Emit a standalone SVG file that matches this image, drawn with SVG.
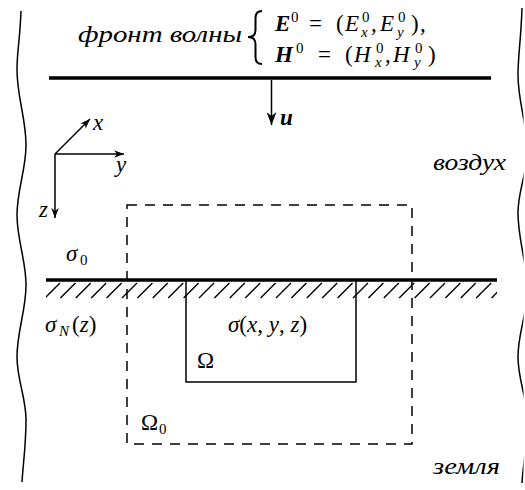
<svg xmlns="http://www.w3.org/2000/svg" width="525" height="490" viewBox="0 0 525 490" font-family="'Liberation Serif', 'Times New Roman', Tinos, 'DejaVu Serif', 'Noto Serif', serif">
<style>
.t{font-family:'Liberation Serif','Times New Roman',Tinos,'DejaVu Serif','Noto Serif',serif;font-size:23px;fill:#000}
.i{font-style:italic}
.bi{font-style:italic;font-weight:bold}
.s{font-size:15px}
.ln{stroke:#000;fill:none;stroke-width:1.5}
.thick{stroke:#000;fill:none;stroke-width:3.3}
.dash{stroke:#000;fill:none;stroke-width:1.5;stroke-dasharray:10 8}
</style>
<defs>
<marker id="big" viewBox="-13 -5 13 10" refX="0" refY="0" markerWidth="13" markerHeight="10" markerUnits="userSpaceOnUse" orient="auto">
<path d="M0,0 L-13,-5 L-9,0 L-13,5 Z" fill="#000"/>
</marker>
<marker id="small" viewBox="-10 -3.8 10 7.6" refX="0" refY="0" markerWidth="10" markerHeight="7.6" markerUnits="userSpaceOnUse" orient="auto">
<path d="M0,0 L-10,-3.8 L-7,0 L-10,3.8 Z" fill="#000"/>
</marker>
<clipPath id="hc"><rect x="46" y="281" width="451" height="20"/></clipPath>
<clipPath id="rc"><rect x="480" y="0" width="43.5" height="490"/></clipPath>
</defs>

<g id="borders">
<path class="ln" d="M21,11 C20,40 17,50 17,70 C17,97 26,118 26,145 C26,170 17,190 17,215 C17,240 26,260 26,285 C26,311 17,331 17,357 C17,380 26,397 26,420 C26,445 23,465 22,482"/>
<path class="ln" clip-path="url(#rc)" d="M522,8 C521,40 518,55 518,75 C518,102 527,123 527,150 C527,175 518,190 518,213 C518,240 527,262 527,290 C527,315 518,333 518,357 C518,380 527,397 527,420 C527,445 523,466 522,483"/>
</g>

<g id="wave-front">
<line class="thick" x1="49" y1="78" x2="491" y2="78"/>
<text class="t i" x="78" y="42" textLength="164" lengthAdjust="spacingAndGlyphs">фронт волны</text>
<path d="M262,11 Q255.5,11 255.5,18 L255.5,30 Q255.5,37 248,37 Q255.5,37 255.5,44 L255.5,57 Q255.5,64 262,64" fill="none" stroke="#000" stroke-width="2"/>
<text class="t bi" x="275" y="31">E</text>
<text class="t s" x="291" y="22">0</text>
<text class="t" x="309" y="31">=</text>
<text class="t" x="336" y="31">(</text>
<text class="t i" x="345" y="31">E</text>
<text class="t s" x="362" y="22">0</text>
<text class="t s i" x="361" y="36.5">x</text>
<text class="t" x="371" y="31">,</text>
<text class="t i" x="380" y="31">E</text>
<text class="t s" x="398" y="22">0</text>
<text class="t s i" x="397" y="36.5">y</text>
<text class="t" x="411" y="31">)</text>
<text class="t" x="420" y="31">,</text>
<text class="t bi" x="275" y="61.5">H</text>
<text class="t s" x="296" y="52.5">0</text>
<text class="t" x="318" y="61.5">=</text>
<text class="t" x="345" y="61.5">(</text>
<text class="t i" x="354" y="61.5">H</text>
<text class="t s" x="376" y="52.5">0</text>
<text class="t s i" x="375" y="67">x</text>
<text class="t" x="385" y="61.5">,</text>
<text class="t i" x="393" y="61.5">H</text>
<text class="t s" x="415" y="52.5">0</text>
<text class="t s i" x="414" y="67">y</text>
<text class="t" x="428" y="61.5">)</text>
</g>

<g id="connectors">
<line class="ln" x1="271.5" y1="80" x2="271.5" y2="125" marker-end="url(#big)"/>
<line class="ln" x1="55" y1="154" x2="90" y2="119" marker-end="url(#small)"/>
<line class="ln" x1="55" y1="154" x2="124" y2="154" marker-end="url(#small)"/>
<line class="ln" x1="55" y1="154" x2="55" y2="218" marker-end="url(#small)"/>
</g>

<g id="labels">
<text class="t bi" x="280" y="125">u</text>
<text class="t i" x="93" y="130">x</text>
<text class="t i" x="116" y="172">y</text>
<text class="t i" x="39" y="217">z</text>
<text class="t i" x="433" y="170" textLength="73" lengthAdjust="spacingAndGlyphs">воздух</text>
<text class="t i" x="433" y="474" textLength="67" lengthAdjust="spacingAndGlyphs">земля</text>
</g>

<g id="ground">
<line class="thick" x1="46" y1="280" x2="497" y2="280"/>
<path clip-path="url(#hc)" stroke="#000" stroke-width="1.4" fill="none" d="M45,298 l15,-15 M60.4,298 l15,-15 M75.8,298 l15,-15 M91.2,298 l15,-15 M106.6,298 l15,-15 M122,298 l15,-15 M137.4,298 l15,-15 M152.8,298 l15,-15 M168.2,298 l15,-15 M183.6,298 l15,-15 M199,298 l15,-15 M214.4,298 l15,-15 M229.8,298 l15,-15 M245.2,298 l15,-15 M260.6,298 l15,-15 M276,298 l15,-15 M291.4,298 l15,-15 M306.8,298 l15,-15 M322.2,298 l15,-15 M337.6,298 l15,-15 M353,298 l15,-15 M368.4,298 l15,-15 M383.8,298 l15,-15 M399.2,298 l15,-15 M414.6,298 l15,-15 M430,298 l15,-15 M445.4,298 l15,-15 M460.8,298 l15,-15 M476.2,298 l15,-15 M491.6,298 l15,-15"/>
<text class="t" y="261"><tspan class="i" x="66">σ</tspan><tspan class="s" x="80" dy="4">0</tspan></text>
<text class="t" y="332"><tspan class="i" x="45">σ</tspan><tspan class="s i" x="59" dy="4">N</tspan><tspan x="72" dy="-4">(</tspan><tspan class="i">z</tspan><tspan>)</tspan></text>
</g>

<g id="omega0">
<rect class="dash" x="127" y="205" width="285" height="239"/>
<text class="t" y="430"><tspan x="141">Ω</tspan><tspan class="s" x="159" dy="4">0</tspan></text>
</g>

<g id="omega">
<rect class="ln" x="186" y="280" width="170" height="102"/>
<text class="t" x="228" y="332"><tspan class="i">σ</tspan>(<tspan class="i">x</tspan>, <tspan class="i">y</tspan>, <tspan class="i">z</tspan>)</text>
<text class="t" x="197" y="368">Ω</text>
</g>
</svg>
